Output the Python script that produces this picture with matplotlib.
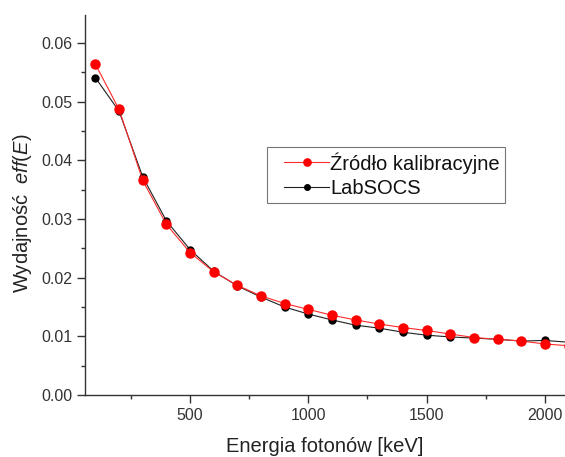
import matplotlib
matplotlib.use("Agg")
import matplotlib.pyplot as plt
from matplotlib.ticker import MultipleLocator
from matplotlib.legend_handler import HandlerLine2D

plt.rcParams['font.family'] = ['Liberation Sans', 'DejaVu Sans']
plt.rcParams['mathtext.fontset'] = 'custom'
plt.rcParams['mathtext.rm'] = 'Liberation Sans'
plt.rcParams['mathtext.it'] = 'Liberation Sans:italic'

energy = [100, 200, 300, 400, 500, 600, 700, 800, 900, 1000, 1100, 1200, 1300,
          1400, 1500, 1600, 1700, 1800, 1900, 2000, 2100]
eff_source = [0.0564, 0.0487, 0.0366, 0.0291, 0.0243, 0.0210, 0.0187, 0.0169,
              0.0156, 0.0146, 0.0136, 0.0128, 0.0121, 0.0115, 0.0110, 0.0104,
              0.0098, 0.0095, 0.0092, 0.0087, 0.0084]
eff_labsocs = [0.0541, 0.0484, 0.0372, 0.0297, 0.0248, 0.0211, 0.0186, 0.0167,
               0.0150, 0.0138, 0.0128, 0.0119, 0.0114, 0.0107, 0.0102, 0.0099,
               0.0097, 0.0095, 0.0092, 0.0093, 0.0090]

fig = plt.figure(figsize=(5.65, 4.57), dpi=100)
ax = fig.add_axes([85/565, 62/457, (565-85)/565, 380/457])

l2, = ax.plot(energy, eff_labsocs, color='#202020', lw=0.8, marker='o',
              markersize=5, markerfacecolor='black', markeredgecolor='black',
              label='LabSOCS', zorder=2)
l1, = ax.plot(energy, eff_source, color='#ff2a2a', lw=0.8, marker='o',
              markersize=6.5, markerfacecolor='#ff0000', markeredgecolor='#ff0000',
              label='Źródło kalibracyjne', zorder=3)

ax.set_xlim(56, 2085)
ax.set_ylim(0, 0.0648)
ax.xaxis.set_major_locator(MultipleLocator(500))
ax.xaxis.set_minor_locator(MultipleLocator(250))
ax.yaxis.set_major_locator(MultipleLocator(0.01))
ax.yaxis.set_minor_locator(MultipleLocator(0.005))
ax.yaxis.set_major_formatter(matplotlib.ticker.FormatStrFormatter('%.2f'))

for s in ['top', 'right']:
    ax.spines[s].set_visible(False)
for s in ['left', 'bottom']:
    ax.spines[s].set_color('#333333')
    ax.spines[s].set_linewidth(1.0)

ax.tick_params(which='major', direction='out', length=5.5, width=1,
               colors='#333333', labelsize=11.5, labelcolor='#333333')
ax.tick_params(which='minor', direction='out', length=3, width=1, colors='#333333')
ax.tick_params(axis='y', pad=3.5)
ax.tick_params(axis='x', pad=4)

ax.set_xlabel('Energia fotonów [keV]', fontsize=14.5, color='#222222', labelpad=10)
ax.set_ylabel('Wydajność  $eff(E)$', fontsize=14.5, color='#222222', labelpad=5)
ax.yaxis.label.set_y(0.479)

hmap = {l1: HandlerLine2D(xpad=0.6), l2: HandlerLine2D(xpad=0.6)}
leg = ax.legend(handles=[l1, l2], loc='upper left',
                bbox_to_anchor=((267-85)/480, (395-147)/380),
                fontsize=14.5, frameon=True, fancybox=False, borderpad=0.25,
                handlelength=2.84, handletextpad=0.05, labelspacing=0.28,
                borderaxespad=0, markerscale=0.8, handler_map=hmap)
leg.get_frame().set_edgecolor('#555555')
leg.get_frame().set_linewidth(0.8)
for t in leg.get_texts():
    t.set_color('#111111')

fig.savefig('out.png', dpi=100)
